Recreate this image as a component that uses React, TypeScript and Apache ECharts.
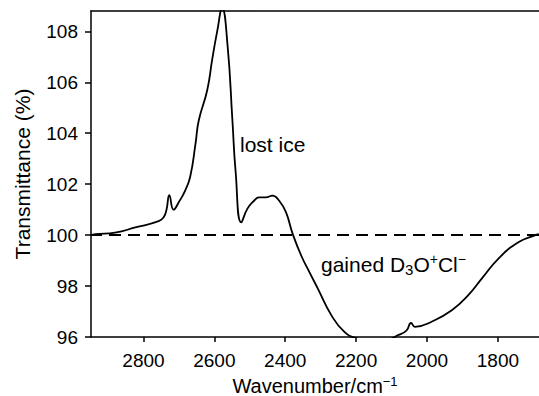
import React, { useEffect, useRef } from "react";
import * as echarts from "echarts";

const wavenumbers = [2948, 2936, 2880, 2823, 2757, 2743, 2735, 2727, 2715, 2700, 2682, 2668, 2653, 2644, 2620, 2606, 2592, 2578, 2563, 2549, 2540, 2524, 2507, 2488, 2474, 2455, 2436, 2417, 2398, 2379, 2355, 2330, 2308, 2270, 2233, 2199, 2150, 2110, 2085, 2058, 2045, 2034, 1987, 1930, 1883, 1845, 1797, 1741, 1694, 1685];
const transmittance = [100.0, 100.04, 100.1, 100.3, 100.55, 100.7, 101.0, 101.57, 101.0, 101.3, 101.76, 102.3, 103.6, 104.5, 105.7, 106.9, 108.0, 108.9, 107.5, 104.5, 102.5, 100.5, 101.03, 101.35, 101.48, 101.48, 101.55, 101.35, 100.9, 100.05, 99.2, 98.5, 97.9, 96.86, 96.2, 95.95, 95.85, 95.9, 96.05, 96.25, 96.55, 96.4, 96.6, 97.05, 97.65, 98.3, 99.1, 99.73, 100.0, 100.05];
const xTickValues = [2800, 2600, 2400, 2200, 2000, 1800];
const yTickValues = [96, 98, 100, 102, 104, 106, 108];
const baseline = 100;

const FONT = "'Liberation Sans', Arial, Helvetica, sans-serif";

export default function App() {
  const ref = useRef<HTMLDivElement>(null);
  useEffect(() => {
    if (!ref.current) return;
    const chart = echarts.init(ref.current, null, { renderer: "svg" });
    const data = wavenumbers.map((w, i) => [w, transmittance[i]]);
    chart.setOption({
      animation: false,
      backgroundColor: "#ffffff",
      grid: { left: 91, right: 0, top: 11, bottom: 59, containLabel: false, outerBoundsMode: "none" },
      xAxis: [
        {
          type: "value",
          inverse: true,
          min: 1684,
          max: 2948,
          name: "Wavenumber/cm{sup|−1}",
          nameLocation: "middle",
          nameGap: 30,
          nameTextStyle: {
            color: "#000",
            fontFamily: FONT,
            fontSize: 20,
            lineHeight: 22,
            rich: {
              sup: { fontSize: 13, fontFamily: FONT, color: "#000", lineHeight: 22, padding: [0, 0, 8, 0] },
            },
          },
          axisLine: { show: true, lineStyle: { color: "#000", width: 1.5 } },
          axisTick: { show: true, customValues: xTickValues, length: 5, lineStyle: { color: "#000", width: 1.5 } },
          axisLabel: {
            customValues: xTickValues,
            color: "#000",
            fontFamily: FONT,
            fontSize: 19,
            margin: 14,
            formatter: (v: number) => String(v),
          },
          splitLine: { show: false },
        },
        {
          type: "value",
          position: "top",
          inverse: true,
          min: 1684,
          max: 2948,
          axisLine: { show: true, lineStyle: { color: "#000", width: 1.5 } },
          axisTick: { show: false },
          axisLabel: { show: false },
          splitLine: { show: false },
        },
      ],
      yAxis: {
        type: "value",
        min: 96,
        max: 108.8,
        name: "Transmittance (%)",
        nameLocation: "middle",
        nameGap: 58,
        nameTextStyle: { color: "#000", fontFamily: FONT, fontSize: 21 },
        axisLine: { show: true, lineStyle: { color: "#000", width: 1.5 } },
        axisTick: { show: true, customValues: yTickValues, length: 6, lineStyle: { color: "#000", width: 1.5 } },
        axisLabel: {
          customValues: yTickValues,
          color: "#000",
          fontFamily: FONT,
          fontSize: 19,
          margin: 13,
          formatter: (v: number) => String(v),
        },
        splitLine: { show: false },
      },
      series: [
        {
          type: "line",
          data,
          showSymbol: false,
          smooth: 0.5,
          clip: true,
          lineStyle: { color: "#000", width: 1.8 },
          markLine: {
            silent: true,
            symbol: "none",
            label: { show: false },
            lineStyle: { color: "#000", width: 2, type: [12, 7] },
            data: [{ yAxis: baseline }],
          },
        },
      ],
      graphic: [
        {
          type: "text",
          x: 240,
          y: 144,
          style: { text: "lost ice", font: `21px ${FONT}`, fill: "#000", verticalAlign: "middle" },
        },
        {
          type: "text",
          x: 321,
          y: 264,
          style: {
            text: "gained D{sub|3}O{sup|+}Cl{sup|−}",
            fontFamily: FONT,
            fontSize: 21,
            fill: "#000",
            verticalAlign: "middle",
            rich: {
              sub: { fontSize: 15, fontFamily: FONT, fill: "#000", padding: [10, 0, 0, 0] },
              sup: { fontSize: 14, fontFamily: FONT, fill: "#000", padding: [0, 0, 10, 0] },
            },
          },
        },
      ],
    });
    return () => chart.dispose();
  }, []);
  return (
    <div
      ref={ref}
      style={{ position: "fixed", left: 0, top: 0, width: 539, height: 396, background: "#fff" }}
    />
  );
}
